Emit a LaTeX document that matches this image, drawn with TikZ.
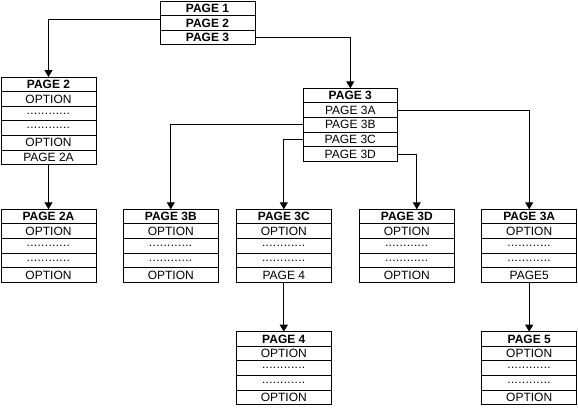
\documentclass[tikz,border=0pt]{standalone}
\usepackage{fontspec}
\setmainfont{Liberation Sans}
\usepackage{tikz}
\usetikzlibrary{arrows.meta,positioning}

\tikzset{
  row/.style={draw,line width=1pt,minimum width=95,minimum height=14.6,inner sep=0pt,outer sep=0pt,
    font=\fontsize{12}{13}\selectfont},
  head/.style={row,anchor=north west,font=\fontsize{12}{13}\selectfont\bfseries},
  link/.style={line width=1pt,-{Triangle[width=8pt,length=7pt]}}
}
\newcommand{\dotrow}{\foreach \k in {1,...,12}{.\kern.3pt}}

\begin{document}
\begin{tikzpicture}[x=1pt,y=-1pt]
			\useasboundingbox (0,0) rectangle (578,410);
			% top menu
			\node[head] (p1) at (160,1) {PAGE 1};
			\node[row,font=\fontsize{12}{13}\selectfont\bfseries,below=0pt of p1] (p1-1) {PAGE 2};
			\node[row,font=\fontsize{12}{13}\selectfont\bfseries,below=0pt of p1-1] (p1-2) {PAGE 3};
			% page 2
			\node[head] (p2) at (1,77) {PAGE 2};
			\node[row,below=0pt of p2] (p2-1) {OPTION};
			\node[row,below=0pt of p2-1] (p2-2) {\dotrow};
			\node[row,below=0pt of p2-2] (p2-3) {\dotrow};
			\node[row,below=0pt of p2-3] (p2-4) {OPTION};
			\node[row,below=0pt of p2-4] (p2-5) {PAGE 2A};
			% page 3
			\node[head,minimum width=94] (p3) at (303.3,88.3) {PAGE 3};
			\node[row,minimum width=94,below=0pt of p3] (p3-1) {PAGE 3A};
			\node[row,minimum width=94,below=0pt of p3-1] (p3-2) {PAGE 3B};
			\node[row,minimum width=94,below=0pt of p3-2] (p3-3) {PAGE 3C};
			\node[row,minimum width=94,below=0pt of p3-3] (p3-4) {PAGE 3D};
			% leaf pages
			\foreach \n/\x/\y/\t/\l in {p2a/1/209.3/PAGE 2A/OPTION,p3b/123.3/209.3/PAGE 3B/OPTION,
				p3c/236.3/209.3/PAGE 3C/PAGE 4,p3d/359.3/209.3/PAGE 3D/OPTION,p3a/481.7/209.3/PAGE 3A/PAGE5,
				p4/236.3/331.7/PAGE 4/OPTION,p5/481.7/331.7/PAGE 5/OPTION} {
				\node[head] (\n) at (\x,\y) {\t};
				\node[row,below=0pt of \n] (\n-1) {OPTION};
				\node[row,below=0pt of \n-1] (\n-2) {\dotrow};
				\node[row,below=0pt of \n-2] (\n-3) {\dotrow};
				\node[row,below=0pt of \n-3] (\n-4) {\l};
			}
			% links
			\draw[link] ([yshift=3pt]p1-1.west) -| (p2.north);
			\draw[link] (p1-2.east) -| (p3.north);
			\draw[link] (p2-5.south) -- (p2a.north);
			\draw[link] (p3-1.east) -| (p3a.north);
			\draw[link] (p3-2.west) -| (p3b.north);
			\draw[link] (p3-3.west) -| (p3c.north);
			\draw[link] (p3-4.east) -| ([xshift=10pt]p3d.north);
			\draw[link] (p3c-4.south) -- (p4.north);
			\draw[link] (p3a-4.south) -- (p5.north);
		\end{tikzpicture}
\end{document}
